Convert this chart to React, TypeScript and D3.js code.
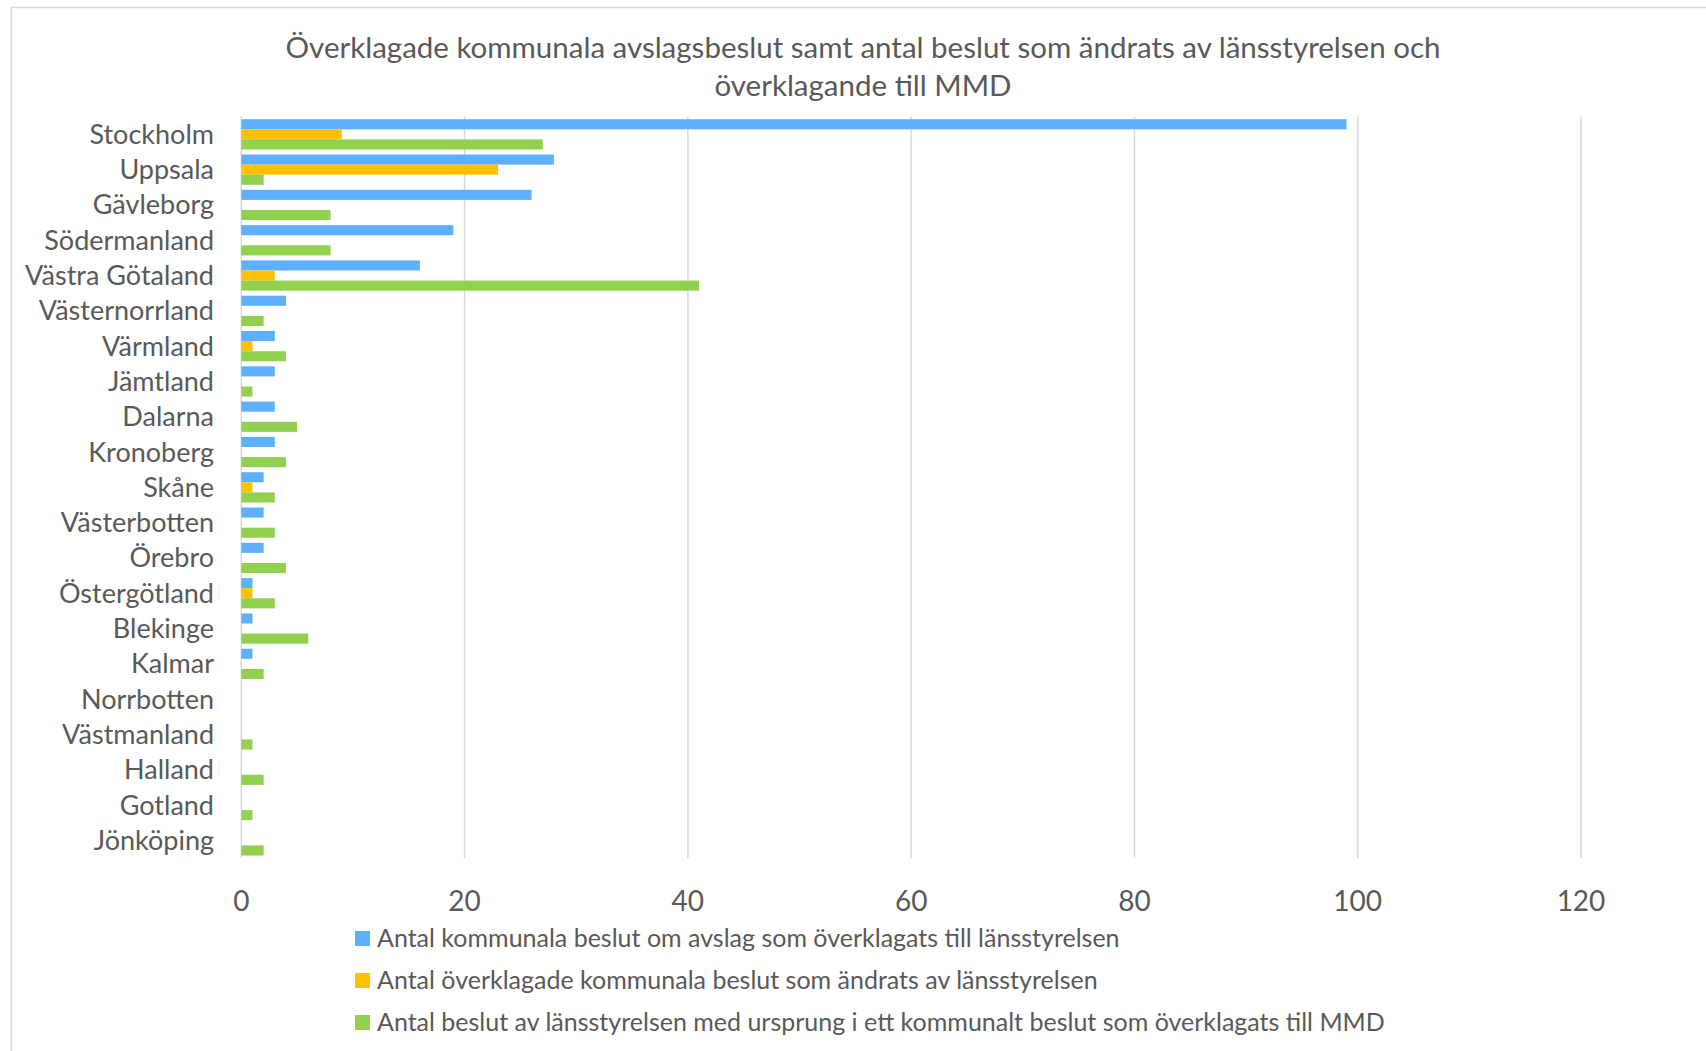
import React, { useEffect, useRef } from 'react';
import * as d3 from 'd3';

const counties = [
  'Stockholm', 'Uppsala', 'Gävleborg', 'Södermanland', 'Västra Götaland', 'Västernorrland',
  'Värmland', 'Jämtland', 'Dalarna', 'Kronoberg', 'Skåne', 'Västerbotten', 'Örebro',
  'Östergötland', 'Blekinge', 'Kalmar', 'Norrbotten', 'Västmanland', 'Halland', 'Gotland', 'Jönköping',
];

const appealed = [99, 28, 26, 19, 16, 4, 3, 3, 3, 3, 2, 2, 2, 1, 1, 1, 0, 0, 0, 0, 0];
const changed = [9, 23, 0, 0, 3, 0, 1, 0, 0, 0, 1, 0, 0, 1, 0, 0, 0, 0, 0, 0, 0];
const toMmd = [27, 2, 8, 8, 41, 2, 4, 1, 5, 4, 3, 3, 4, 3, 6, 2, 0, 1, 2, 1, 2];

const seriesNames = [
  'Antal kommunala beslut om avslag som överklagats till länsstyrelsen',
  'Antal överklagade kommunala beslut som ändrats av länsstyrelsen',
  'Antal beslut av länsstyrelsen med ursprung i ett kommunalt beslut som överklagats till MMD',
];
const seriesColors = ['#5DAFFF', '#FFC000', '#92D050'];
const xTicks = [0, 20, 40, 60, 80, 100, 120];
const titleLines = [
  'Överklagade kommunala avslagsbeslut samt antal beslut som ändrats av länsstyrelsen och',
  'överklagande till MMD',
];

const W = 1706;
const H = 1051;
const FONT = 'Lato, "Open Sans", sans-serif';
const TEXT = '#595959';

export default function App() {
  const svgRef = useRef<SVGSVGElement>(null);

  useEffect(() => {
    if (!svgRef.current) return;
    const svg = d3.select(svgRef.current);
    svg.selectAll('*').remove();

    svg.append('rect').attr('width', W).attr('height', H).attr('fill', '#fff');
    // chart frame (runs past the right/bottom edge)
    svg.append('rect')
      .attr('x', 11.5).attr('y', 7.5)
      .attr('width', 1720).attr('height', 1100)
      .attr('fill', 'none').attr('stroke', '#D9D9D9').attr('stroke-width', 1.5);

    const x = d3.scaleLinear().domain([0, 120]).range([241.3, 1581]);
    const y = d3.scaleBand<string>().domain(counties).range([116.7, 858])
      .paddingInner(1 / 7).paddingOuter(1 / 14);
    const ySub = d3.scaleBand<number>().domain([0, 1, 2]).range([0, y.bandwidth()]);

    // title
    svg.append('g').selectAll('text')
      .data(titleLines)
      .enter()
      .append('text')
      .attr('x', 863)
      .attr('y', (_, i) => 58 + i * 38)
      .attr('text-anchor', 'middle')
      .attr('font-family', FONT)
      .attr('font-size', 29.5)
      .attr('fill', TEXT)
      .text(d => d);

    // gridlines
    svg.append('g').selectAll('line')
      .data(xTicks)
      .enter()
      .append('line')
      .attr('x1', d => x(d)).attr('x2', d => x(d))
      .attr('y1', 116.7).attr('y2', 858)
      .attr('stroke', '#D9D9D9').attr('stroke-width', 1.5);

    // tick labels
    svg.append('g').selectAll('text')
      .data(xTicks)
      .enter()
      .append('text')
      .attr('x', d => x(d))
      .attr('y', 911)
      .attr('text-anchor', 'middle')
      .attr('font-family', FONT)
      .attr('font-size', 28)
      .attr('fill', TEXT)
      .text(d => d);

    // category labels
    svg.append('g').selectAll('text')
      .data(counties)
      .enter()
      .append('text')
      .attr('x', 214)
      .attr('y', d => (y(d) ?? 0) + y.bandwidth() / 2)
      .attr('dy', '0.35em')
      .attr('text-anchor', 'end')
      .attr('font-family', FONT)
      .attr('font-size', 27)
      .attr('fill', TEXT)
      .text(d => d);

    // bars
    const series = [appealed, changed, toMmd];
    series.forEach((vals, s) => {
      svg.append('g').selectAll('rect')
        .data(vals)
        .enter()
        .append('rect')
        .attr('x', x(0))
        .attr('y', (_, i) => (y(counties[i]) ?? 0) + (ySub(s) ?? 0))
        .attr('width', d => x(d) - x(0))
        .attr('height', ySub.bandwidth())
        .attr('fill', seriesColors[s]);
    });

    // legend
    const legend = svg.append('g').selectAll('g')
      .data(seriesNames)
      .enter()
      .append('g')
      .attr('transform', (_, i) => `translate(355, ${931 + i * 42})`);
    legend.append('rect')
      .attr('width', 15).attr('height', 15)
      .attr('fill', (_, i) => seriesColors[i]);
    legend.append('text')
      .attr('x', 22).attr('y', 7.5)
      .attr('dy', '0.35em')
      .attr('font-family', FONT)
      .attr('font-size', 25)
      .attr('fill', TEXT)
      .text(d => d);
  }, []);

  return (
    <svg
      ref={svgRef}
      width={W}
      height={H}
      style={{ position: 'absolute', left: 0, top: 0, display: 'block' }}
    />
  );
}
